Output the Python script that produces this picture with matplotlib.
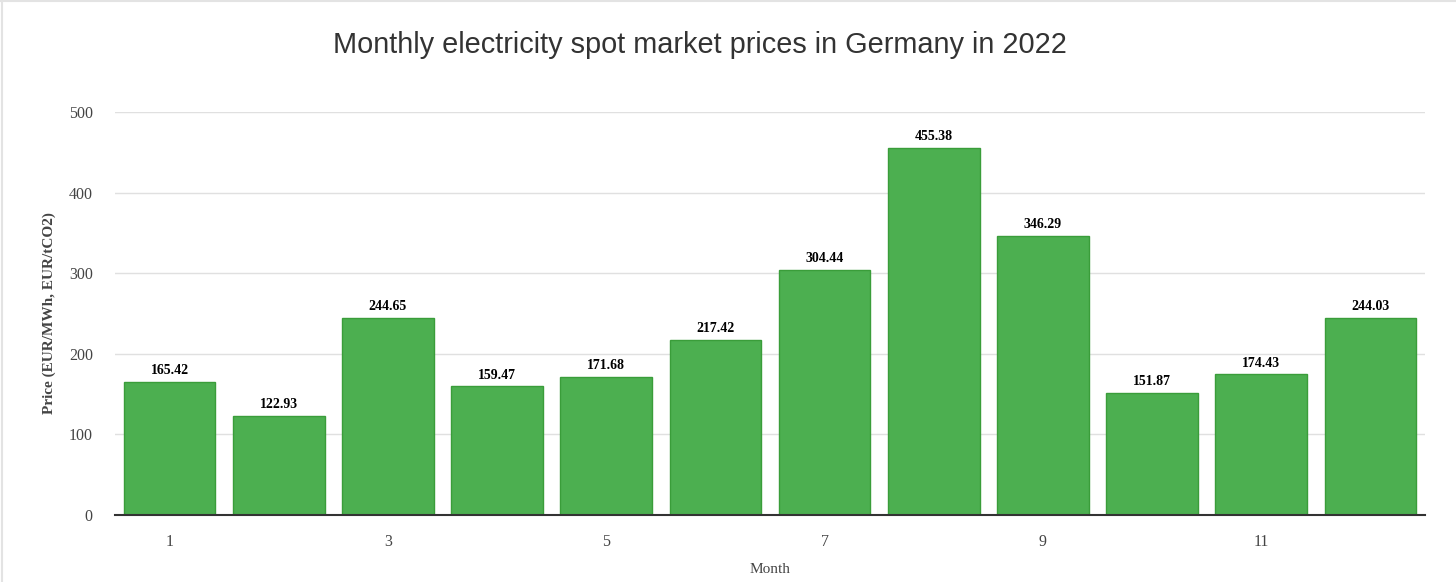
import matplotlib.pyplot as plt
from matplotlib.lines import Line2D

# monthly spot prices (EUR/MWh), 2022
months = [1, 2, 3, 4, 5, 6, 7, 8, 9, 10, 11, 12]
prices = [165.42, 122.93, 244.65, 159.47, 171.68, 217.42,
          304.44, 455.38, 346.29, 151.87, 174.43, 244.03]
xtick_months = [1, 3, 5, 7, 9, 11]
ytick_vals = [0, 100, 200, 300, 400, 500]

serif = ['Liberation Serif', 'DejaVu Serif']
sans = ['Liberation Sans', 'DejaVu Sans']

fig = plt.figure(figsize=(14.56, 5.82), dpi=100)
ax = fig.add_axes([0.079, 0.1151, 0.8997, 0.6925])

bars = ax.bar(months, prices, width=0.84, color='#4caf50',
              edgecolor='#3a9d3a', linewidth=1, zorder=3)

for b, v in zip(bars, prices):
    ax.text(b.get_x() + b.get_width() / 2, v + 6, f'{v:.2f}',
            ha='center', va='bottom', fontsize=10, fontweight='bold',
            family=serif, color='black', zorder=4)

ax.set_xlim(0.5, 12.5)
ax.set_ylim(0, 500)
ax.set_yticks(ytick_vals)
ax.set_xticks(xtick_months)
ax.tick_params(length=0, labelsize=11.5, labelcolor='#444444', pad=14)
ax.tick_params(axis='y', pad=16)
for lbl in ax.get_xticklabels() + ax.get_yticklabels():
    lbl.set_family(serif)

ax.grid(axis='y', color='#e0e0e0', linewidth=1, zorder=0)
for s in ['top', 'right', 'left']:
    ax.spines[s].set_visible(False)
ax.spines['bottom'].set_color('#333333')
ax.spines['bottom'].set_linewidth(1.5)
ax.spines['bottom'].set_zorder(5)

ax.set_xlabel('Month', family=serif, fontsize=11, color='#444444', labelpad=9)
ax.set_ylabel('Price (EUR/MWh, EUR/tCO2)', family=serif, fontsize=11,
              fontweight='bold', color='#444444', labelpad=9)

fig.text(0.4808, 0.922, 'Monthly electricity spot market prices in Germany in 2022',
         ha='center', va='center', fontsize=20.8, family=sans, color='#333333')

# light frame on left and top, as in the screenshot
fig.add_artist(Line2D([0.0015, 0.0015], [0, 1], color='#e3e3e3', linewidth=1.5,
                      transform=fig.transFigure))
fig.add_artist(Line2D([0, 1], [0.999, 0.999], color='#e3e3e3', linewidth=1.5,
                      transform=fig.transFigure))

fig.savefig('out.png', dpi=100)
